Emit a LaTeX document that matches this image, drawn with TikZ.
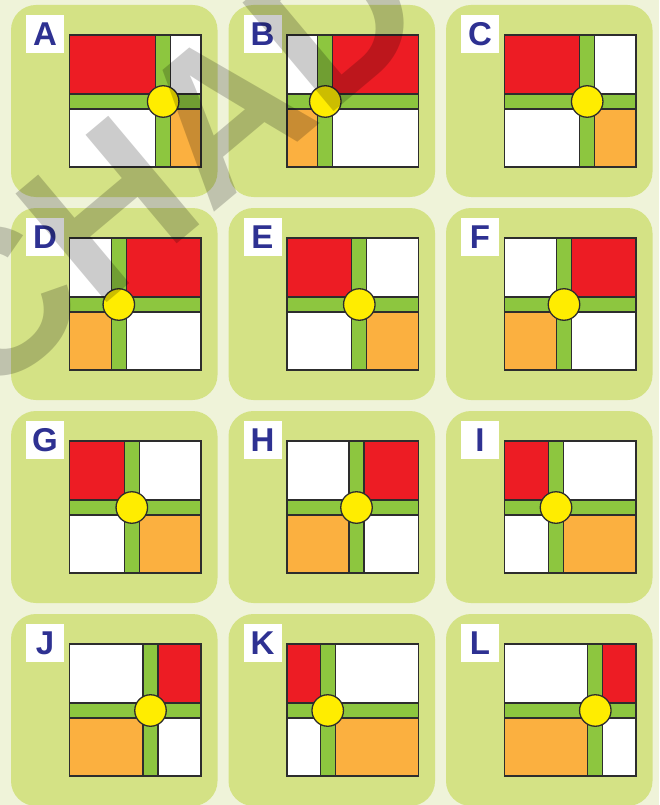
\documentclass[tikz,border=0pt]{standalone}
\usepackage{fontspec}
\newfontfamily\labfont{Liberation Sans}
\definecolor{bgc}{RGB}{239,243,217}
\definecolor{panelc}{RGB}{212,226,133}
\definecolor{redc}{RGB}{237,28,36}
\definecolor{orangec}{RGB}{251,176,64}
\definecolor{barc}{RGB}{141,198,63}
\definecolor{hubc}{RGB}{255,237,0}
\definecolor{linec}{RGB}{45,45,45}
\definecolor{labc}{RGB}{46,49,146}
\tikzset{
  cell/.style={draw=linec, line width=1.3pt},
  frame/.style={draw=linec, line width=1.6pt},
  bar/.style={fill=barc, draw=linec, line width=1.3pt},
  hub/.style={circle, fill=hubc, draw=linec, line width=1.3pt, minimum size=31.5pt, inner sep=0pt},
  labelbox/.style={fill=white, minimum size=38pt, inner sep=0pt, text=labc,
    font=\labfont\bfseries\fontsize{33}{33}\selectfont},
  watermark/.style={anchor=base west, inner sep=0pt, text=black, text opacity=0.2,
    font=\labfont\bfseries\fontsize{206}{206}\selectfont}
}
\newcommand\mypanel[6]{%
  \begin{scope}[shift={(#2,#3)}]
    \fill[panelc, rounded corners=25pt] (0,0) rectangle (206.5,192);
    \node[labelbox] (lab#1) at (34,29) {#4};
    \pgfmathsetmacro\vx{58.5+#5}
    \ifnum#6=1
      \def\cTL{redc}\def\cTR{white}\def\cBL{white}\def\cBR{orangec}%
    \else
      \def\cTL{white}\def\cTR{redc}\def\cBL{orangec}\def\cBR{white}%
    \fi
    \draw[cell, fill=\cTL] (58.5,30) rectangle (\vx-7.5,89);
    \draw[cell, fill=\cTR] (\vx+7.5,30) rectangle (190,89);
    \draw[cell, fill=\cBL] (58.5,104) rectangle (\vx-7.5,162);
    \draw[cell, fill=\cBR] (\vx+7.5,104) rectangle (190,162);
    \draw[bar] (58.5,89) rectangle (190,104);
    \draw[bar] (\vx-7.5,30) rectangle (\vx+7.5,162);
    \draw[frame] (58.5,30) rectangle (190,162);
    \node[hub] (hub#1) at (\vx,96.5) {};
  \end{scope}}
\begin{document}
\begin{tikzpicture}[x=1pt, y=-1pt]
  \useasboundingbox (0,0) rectangle (659,805);
  \clip (0,0) rectangle (659,805);
  \fill[bgc] (0,0) rectangle (659,805);
  \mypanel{A}{11}{5}{A}{93.7}{1}
  \mypanel{B}{228.5}{5}{B}{38.3}{2}
  \mypanel{C}{446}{5}{C}{82.7}{1}
  \mypanel{D}{11}{208}{D}{49.3}{2}
  \mypanel{E}{228.5}{208}{E}{72.3}{1}
  \mypanel{F}{446}{208}{F}{59.5}{2}
  \mypanel{G}{11}{411}{G}{62.3}{1}
  \mypanel{H}{228.5}{411}{H}{69.5}{2}
  \mypanel{I}{446}{411}{I}{51.5}{1}
  \mypanel{J}{11}{614}{J}{81}{2}
  \mypanel{K}{228.5}{614}{K}{40.7}{1}
  \mypanel{L}{446}{614}{L}{90.8}{2}
  \node[watermark, rotate=40] (wm) at (-18,407) {CHAD};
\end{tikzpicture}
\end{document}
